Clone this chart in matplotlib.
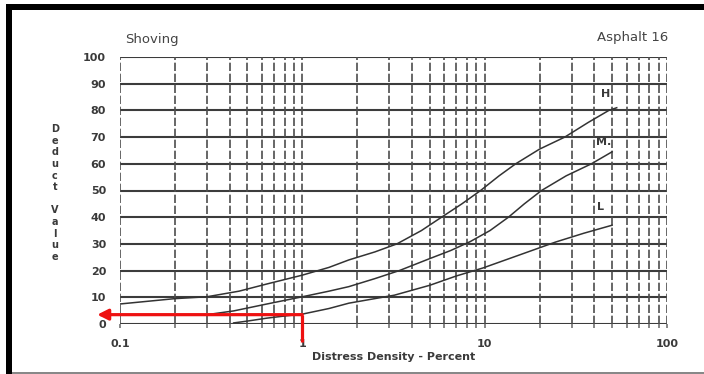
import numpy as np
import matplotlib
matplotlib.use('Agg')
import matplotlib.pyplot as plt
from matplotlib.patches import Rectangle

# Curves (Shoving, Asphalt 16)
h_x = [0.1, 0.2, 0.3, 0.45, 0.64, 1.0, 1.4, 1.8, 2.5, 3.3, 4.5, 5.8, 7.5,
       9.5, 12, 14.8, 20, 27.5, 37, 48, 53]
h_y = [7.5, 9.5, 10.2, 12.3, 15, 18.3, 21.2, 24, 27, 30, 35, 40, 45,
       50, 55.5, 60, 65.5, 70, 75.5, 80, 81]

m_x = [0.3, 0.42, 0.64, 1.0, 1.4, 1.8, 2.5, 3.4, 5, 6.5, 8.3, 10.7, 13.5,
       16.5, 20.5, 28, 38.5, 50]
m_y = [3.5, 4.9, 7.5, 10.2, 12.3, 14, 17, 20, 24.5, 27.5, 30.8, 35, 40,
       45, 50, 55.5, 60, 64.5]

l_x = [0.42, 0.5, 0.64, 0.8, 1.0, 1.4, 1.8, 2.4, 3.2, 5, 7, 9.8, 15, 24.5,
       35, 50]
l_y = [0.4, 1.1, 2.2, 3.0, 3.7, 5.8, 7.8, 9.3, 10.8, 14.5, 18, 21, 25.5,
       30.7, 34, 37]

labels = ['H', 'M.', 'L']
label_x = [46, 45, 43]
label_y = [86, 68, 44]

x_ticks = [0.1, 1, 10, 100]
x_ticklabels = ['0.1', '1', '10', '100']
y_ticks = list(range(0, 101, 10))

# reading shown with the red arrow
read_x = 1
read_y = 3.5
arrow_start_y = -6.7
arrow_end_x = 0.075

W, H = 704, 374
fig = plt.figure(figsize=(W / 100, H / 100), dpi=100)
fig.patch.set_facecolor('white')

ax = fig.add_axes([120 / W, 1 - 324 / H, (667 - 120) / W, (324 - 57) / H])
ax.set_xscale('log')
ax.set_xlim(0.1, 100)
ax.set_ylim(0, 100)

txt = '#3a3a3a'

# horizontal grid
for yv in y_ticks:
    ax.axhline(yv, color='#3c3c3c', lw=1.5, zorder=1)

# vertical (log) grid, broken like the scan
vx = [m * 10.0 ** e for e in (-1, 0, 1) for m in range(1, 10)] + [100]
for xv in vx:
    ax.axvline(xv, color='#4d4d4d', lw=1.2, dashes=(5, 1.6), zorder=1)

for s in ['left', 'top', 'bottom', 'right']:
    ax.spines[s].set_visible(False)

ax.plot(h_x, h_y, color='#333333', lw=1.1, zorder=3)
ax.plot(m_x, m_y, color='#333333', lw=1.1, zorder=3)
ax.plot(l_x, l_y, color='#333333', lw=1.1, zorder=3)

for t, lx, ly in zip(labels, label_x, label_y):
    ax.text(lx, ly, t, ha='center', va='center', fontsize=8,
            fontweight='bold', color=txt, zorder=4)

ax.set_xticks(x_ticks)
ax.set_xticklabels(x_ticklabels)
ax.set_xticks(vx, minor=True)
ax.xaxis.set_minor_formatter(plt.NullFormatter())
ax.set_yticks(y_ticks)
ax.tick_params(axis='x', which='both', length=3, width=1.1, color='#666666',
               pad=8, labelsize=8, labelcolor=txt)
ax.tick_params(axis='y', length=0, pad=10, labelsize=8, labelcolor=txt)
for lab in ax.get_xticklabels() + ax.get_yticklabels():
    lab.set_fontweight('bold')

ax.set_xlabel('Distress Density - Percent', fontsize=8, fontweight='bold',
              color=txt, labelpad=2)

# red reading arrow
ax.plot([read_x, read_x], [arrow_start_y, read_y], color='#ee1111', lw=2.3,
        clip_on=False, zorder=5, solid_capstyle='butt')
ax.annotate('', xy=(arrow_end_x, read_y), xytext=(read_x, read_y),
            arrowprops=dict(arrowstyle='-|>', color='#ee1111', lw=2.3,
                            mutation_scale=16, shrinkA=0, shrinkB=0),
            annotation_clip=False, zorder=5)

fig.text(125 / W, 1 - 40 / H, 'Shoving', fontsize=9.5, color='#444444',
         ha='left', va='center')
fig.text(668 / W, 1 - 38 / H, 'Asphalt 16', fontsize=9.5, color='#444444',
         ha='right', va='center')
fig.text(55 / W, 1 - 193 / H, 'D\ne\nd\nu\nc\nt\n\nV\na\nl\nu\ne',
         fontsize=7, fontweight='bold', color=txt, ha='center', va='center',
         linespacing=1.2)

# scan frame
fig.add_artist(Rectangle((6 / W, 1 - 10 / H), 1, 6 / H, transform=fig.transFigure,
                         color='black', lw=0))
fig.add_artist(Rectangle((6 / W, 0), 6 / W, 1 - 4 / H, transform=fig.transFigure,
                         color='black', lw=0))
fig.add_artist(Rectangle((12 / W, 0), 1, 2 / H, transform=fig.transFigure,
                         color='#888888', lw=0))

fig.savefig('out.png', dpi=100, facecolor='white')
